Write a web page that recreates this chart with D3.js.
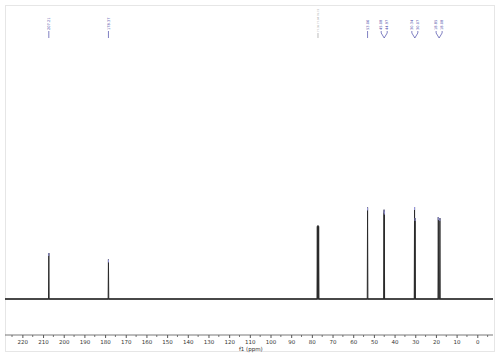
<!DOCTYPE html>
<html><head><meta charset="utf-8">
<script src="https://cdn.jsdelivr.net/npm/d3@7"></script>
<style>body{margin:0;background:#fff}svg{display:block}</style>
</head><body>
<svg id="c" width="500" height="358"></svg>
<script>
// Peak positions (ppm) and intensities (relative units)
const peakPpm = [207.21, 178.37, 77.36, 77.04, 76.72, 53.06, 45.08, 44.97, 30.34, 30.07, 18.85, 18.08];
const peakInt = [50, 43, 79, 80, 79, 99.5, 97, 95, 100, 88, 89, 88];
const isSolvent = [false, false, true, true, true, false, false, false, false, false, false, false];
// Peak label groups (label texts and ppm they point at)
const labelGroups = [
  {texts: ["207.21"], ppm: 207.21, solvent: false},
  {texts: ["178.37"], ppm: 178.37, solvent: false},
  {texts: ["77.36 77.04 76.72"], ppm: 77.04, solvent: true},
  {texts: ["53.06"], ppm: 53.06, solvent: false},
  {texts: ["45.08", "44.97"], ppm: 45.02, solvent: false},
  {texts: ["30.34", "30.07"], ppm: 30.2, solvent: false},
  {texts: ["18.85", "18.08"], ppm: 18.46, solvent: false}
];
const tickValues = d3.range(220, -1, -10);
const minorTicks = d3.range(225, -6, -5);
const xDomain = [228.4, -7.6];

const svg = d3.select("#c");
const x = d3.scaleLinear().domain(xDomain).range([5, 493]);
const y = d3.scaleLinear().domain([0, 100]).range([299, 207]);

// frame
svg.append("rect").attr("x", 5.5).attr("y", 5.5).attr("width", 489).attr("height", 346)
  .attr("fill", "none").attr("stroke", "#e6e6e6").attr("stroke-width", 1);

// baseline
svg.append("line").attr("x1", x(xDomain[0])).attr("x2", x(xDomain[1]))
  .attr("y1", y(0)).attr("y2", y(0)).attr("stroke", "#333").attr("stroke-width", 1.7);

// spectrum path
const pts = [[xDomain[0], 0]];
const order = d3.range(peakPpm.length).sort((a, b) => peakPpm[b] - peakPpm[a]);
order.forEach(i => {
  pts.push([peakPpm[i] + 0.15, 0]);
  pts.push([peakPpm[i], peakInt[i]]);
  pts.push([peakPpm[i] - 0.15, 0]);
});
pts.push([xDomain[1], 0]);
svg.append("path").datum(pts)
  .attr("d", d3.line().x(d => x(d[0])).y(d => y(d[1])))
  .attr("fill", "none").attr("stroke", "#2a2a2a").attr("stroke-width", 1);

// peak tips (blue marks)
svg.selectAll(".tip").data(d3.range(peakPpm.length).filter(i => !isSolvent[i])).join("line")
  .attr("x1", i => x(peakPpm[i])).attr("x2", i => x(peakPpm[i]))
  .attr("y1", i => y(peakInt[i])).attr("y2", i => y(peakInt[i]) + 3)
  .attr("stroke", "#9a9ae0").attr("stroke-width", 1);

// axis
const axisY = 335;
const ax = svg.append("g").attr("transform", `translate(0,${axisY})`);
ax.append("line").attr("x1", 5).attr("x2", 493).attr("stroke", "#555").attr("stroke-width", 0.8);
const axis = d3.axisBottom(x).tickValues(tickValues).tickSize(3).tickFormat(d3.format("d"));
const g = ax.append("g").call(axis);
g.select(".domain").remove();
g.selectAll("line").attr("stroke", "#555");
g.selectAll("text").attr("font-family", "'DejaVu Sans', sans-serif").attr("font-size", 5.5)
  .attr("fill", "#333").attr("dy", "0.55em");
ax.selectAll(".minor").data(minorTicks.filter(v => v % 10 !== 0)).join("line")
  .attr("x1", d => x(d)).attr("x2", d => x(d)).attr("y1", 0).attr("y2", 2)
  .attr("stroke", "#555").attr("stroke-width", 0.8);
svg.append("text").attr("x", x(110) + 1).attr("y", 350.5).attr("text-anchor", "middle")
  .attr("font-family", "'DejaVu Sans', sans-serif").attr("font-size", 5.5).attr("fill", "#333")
  .text("f1 (ppm)");

// peak labels
labelGroups.forEach(gr => {
  const px = x(gr.ppm);
  const col = gr.solvent ? "#a0a0a0" : "#4a4aa8";
  const n = gr.texts.length;
  const spacing = 6;
  const fs = gr.solvent ? 2.5 : 3.6;
  const base = gr.solvent ? 32 : 30;
  gr.texts.forEach((t, k) => {
    const lx = n === 1 ? px : px + (k - (n - 1) / 2) * spacing;
    svg.append("text")
      .attr("transform", `translate(${lx + fs / 3},${base}) rotate(-90)`)
      .attr("font-family", "'DejaVu Sans', sans-serif").attr("font-size", fs)
      .attr("fill", col).text(t);
    if (n === 1) {
      svg.append("line").attr("x1", px).attr("x2", px).attr("y1", base + 1).attr("y2", 38)
        .attr("stroke", col).attr("stroke-width", 0.7);
    } else {
      svg.append("path").attr("d", `M${lx},31 L${lx},33 L${px},38`)
        .attr("fill", "none").attr("stroke", col).attr("stroke-width", 0.7);
    }
  });
});
</script>
</body></html>
